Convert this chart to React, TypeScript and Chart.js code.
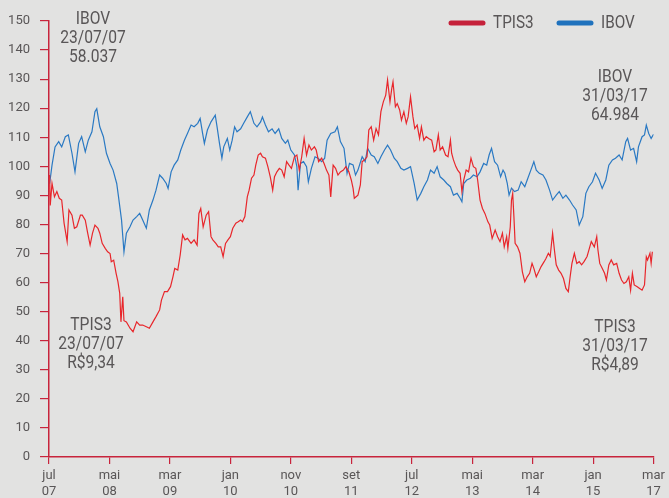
import React, { useEffect, useRef } from "react";
import { Chart, registerables } from "chart.js";

Chart.register(...registerables);

// months since jul/07
const IBOV_T = [0.1,0.5,1.0,1.6,2.1,2.7,3.2,3.8,4.3,4.9,5.4,6.0,6.5,7.1,7.6,7.9,8.4,9.0,9.5,10.1,10.6,11.2,11.5,12.0,12.4,12.8,13.4,13.9,14.5,15.0,15.5,16.1,16.6,17.2,17.7,18.3,18.8,19.4,19.7,20.2,20.7,21.3,21.8,22.4,22.9,23.5,24.0,24.6,25.0,25.4,25.7,26.2,26.8,27.5,27.8,28.2,28.6,28.9,29.5,29.9,30.3,30.7,31.1,31.7,32.2,32.8,33.3,33.9,34.4,35.0,35.3,35.8,36.3,36.9,37.4,38.0,38.5,39.1,39.5,40.0,40.6,41.0,41.2,41.6,42.1,42.6,42.9,43.4,44.0,44.5,45.1,45.6,46.0,46.6,47.3,47.7,48.2,48.8,49.3,49.7,50.3,50.7,51.1,51.8,52.3,52.7,53.3,53.8,54.4,54.9,55.5,56.0,56.5,57.1,57.6,58.2,58.7,59.3,59.8,60.4,60.9,61.5,62.0,62.6,63.1,63.7,64.2,64.7,65.3,65.8,66.4,66.9,67.5,68.0,68.3,68.6,69.1,69.7,70.2,70.8,71.3,71.9,72.4,72.8,73.2,73.7,74.2,74.7,75.1,75.4,75.8,76.1,76.5,77.0,77.6,78.1,78.7,79.1,79.7,80.2,80.6,81.1,81.7,82.2,82.8,83.3,83.9,84.4,85.0,85.5,86.1,86.6,87.2,87.7,88.3,88.8,89.3,89.9,90.4,91.0,91.5,92.1,92.6,93.2,93.7,94.3,94.8,95.4,95.7,96.2,96.7,97.2,97.5,98.1,98.5,98.8,99.2,99.6,100.0];
const IBOV_V = [94,100.4,106.7,108.5,106.7,110.2,110.8,104.5,98.1,107.9,110.2,105,109,111.9,118.8,119.8,113.6,110.2,104.5,101,98.7,94.1,89.5,81.5,70.6,77,79.2,81.5,82.7,83.8,81.5,78.7,85,88.4,91.8,97,95.9,94.1,92.4,98.1,100.4,102.2,105.6,109,111.3,114.2,113.6,114.8,116.5,111.4,107.9,112.5,115.3,117.6,113.6,107.9,102.8,106.7,109.6,105.6,109,113.6,111.9,112.9,114.8,117,118.8,114.8,113.6,115.3,117,114.2,111.9,112.9,111.3,112.9,109.6,107.9,109,105.6,103.9,99.9,91.8,101,101.6,99.9,94.7,99.3,103.3,102.8,101.6,102.8,109,111.3,111.9,113.6,108.5,106.2,97.6,101,100.5,97,98.7,103.3,101.6,106.2,103.9,103.3,101,103.3,105.6,107.3,105.6,102.8,101.6,99.3,98.7,99.3,99.9,94.1,88.4,90.7,93,95.3,98.7,97.6,99.9,96.4,95.3,94.1,93,90.1,90.7,89,87.8,94.1,95.3,95.9,97,96.4,98.1,101,100.4,103.9,106.2,101.6,100.4,96.4,98.7,97.6,94.1,90.1,92.5,91.3,91.8,94.7,93,95.3,98.7,101.6,98.7,97.6,97,95.3,91.8,88.4,90.1,91.3,89,90.1,88.4,86.7,85,79.8,82.7,90.7,93,94.7,97.6,95.3,92.4,95.3,100.4,102.2,102.8,103.9,102.2,108.5,109.6,105.6,106.2,101.6,106.7,110.2,110.8,114.2,111.3,109.6,111];

const TPIS_T = [0.1,0.2,0.5,0.9,1.3,1.7,2.1,2.5,3.0,3.3,3.8,4.2,4.6,5.2,5.5,6.0,6.4,6.8,7.2,7.6,8.1,8.4,8.8,9.3,9.7,10.1,10.3,10.7,11.1,11.4,11.7,11.9,12.2,12.4,12.8,13.4,13.9,14.5,15.0,15.5,16.1,16.6,17.2,17.7,18.3,18.6,19.1,19.6,20.1,20.5,20.8,21.3,21.7,22.1,22.5,22.9,23.5,24.0,24.5,24.8,25.1,25.5,26.0,26.4,26.8,27.1,27.6,28.0,28.4,28.8,29.2,29.6,30.0,30.4,30.9,31.3,31.7,32.0,32.4,32.8,33.1,33.5,33.9,34.2,34.6,35.0,35.3,35.8,36.2,36.6,37.0,37.3,37.7,38.1,38.5,38.9,39.3,39.7,40.1,40.6,41.0,41.4,41.8,42.2,42.6,43.0,43.4,43.9,44.2,44.6,45.1,45.5,45.9,46.3,46.6,47.0,47.4,47.8,48.2,48.7,49.1,49.6,50.0,50.3,50.5,51.1,51.5,51.8,52.2,52.6,52.9,53.3,53.7,54.1,54.5,54.9,55.3,55.7,56.0,56.4,56.7,56.9,57.3,57.6,58.0,58.3,58.7,59.1,59.4,59.8,60.2,60.5,60.9,61.3,61.6,62.0,62.4,62.8,63.3,63.7,64.0,64.4,64.7,65.1,65.6,66.0,66.4,66.6,66.9,67.3,67.6,68.0,68.3,68.6,69.0,69.4,69.8,70.2,70.6,70.9,71.3,71.7,72.1,72.6,72.9,73.3,73.8,74.2,74.6,75.0,75.3,75.7,75.9,76.3,76.5,76.7,76.9,77.1,77.5,77.9,78.3,78.7,79.1,79.5,79.9,80.2,80.6,81.0,81.4,81.9,82.2,82.6,82.9,83.3,83.6,83.9,84.3,84.7,85.1,85.5,85.9,86.2,86.5,86.9,87.3,87.7,88.1,88.5,89.0,89.3,89.7,90.2,90.6,90.8,91.1,91.5,91.9,92.2,92.6,93.0,93.4,93.9,94.3,94.7,95.1,95.5,95.9,96.2,96.5,96.8,97.3,97.7,98.1,98.5,98.8,99.0,99.4,99.6,99.8];
const TPIS_V = [97,86.5,94.1,89.5,91.3,89,88.4,80.4,74.1,85,83.2,78.7,79.2,83.2,83.2,81.5,77,72.9,77,79.8,78.7,77,73.5,71.8,70.6,70,67.2,67.7,63.2,60.3,56.3,46.5,55.1,46.9,46.5,44.3,43.1,46.5,45.4,45.4,44.8,44.3,46.5,48.3,50.6,54,56.9,56.9,58.6,62,64.9,64.3,69.5,76.4,74.7,75.2,73.5,74.7,72.9,83.8,85.5,79.2,83.2,84.4,75.8,74.7,73.5,72.3,72.3,68.9,73.5,74.7,75.8,78.7,80.4,80.9,81.5,80.9,82.7,89.5,91.8,95.9,97,100.4,103.9,104.5,103.3,102.8,99.9,96.4,91.8,96.4,98.1,99.3,98.7,96.4,101.6,100.4,99.3,103.3,103.9,98.7,103.3,109.6,103.9,107.3,105.6,106.7,105.6,101.6,102.8,101,98.7,97,89.5,100.4,99.3,97,98.1,98.7,99.9,98.1,95.3,92.4,89,90.1,93.6,101.6,102.2,103.3,112.5,113.6,109,113,110.8,118.8,122.2,124.5,129.7,122.2,126.8,129.1,120.5,121.6,119.4,115.9,118.8,114.8,117,123.9,117,113,114.2,109.6,113.6,109,110.2,109.6,109,105,105.6,110.8,105.6,106.7,103.9,103.3,109,104.5,102.2,99.9,98.7,97.6,91.3,95.3,98.7,98.1,102.8,99.9,99.3,95.3,88.4,85.5,83.8,80.9,79.8,75.2,78.1,75.8,74.1,77,72.3,75.8,71.8,79.2,88.4,90.7,82.7,73.5,72.3,70.1,63.7,60.3,62,63.2,66.6,64.9,62,63.7,65.5,67.2,68.3,70.1,69,77,71.2,66.1,64.3,63.2,61.4,58,56.9,62,66.6,70.1,66.6,67.2,66.1,67.2,69,71.2,74.1,72.3,75.8,71.2,66.6,64.9,63.2,60.9,66.1,67.8,66.1,66.6,63.2,60.9,59.7,60.3,62,57.4,63.2,59.2,58.6,58,57.4,59.2,68.9,67.8,70.1,66.6,70.6];

const X_TICKS = [0, 10, 20, 30, 40, 50, 60, 70, 80, 90, 100];
const X_LABELS = [["jul","07"],["mai","08"],["mar","09"],["jan","10"],["nov","10"],["set","11"],["jul","12"],["mai","13"],["mar","14"],["jan","15"],["mar","17"]];
const SERIES_NAMES = ["TPIS3", "IBOV"];
const NOTE_IBOV_START = ["IBOV", "23/07/07", "58.037"];
const NOTE_IBOV_END = ["IBOV", "31/03/17", "64.984"];
const NOTE_TPIS_START = ["TPIS3", "23/07/07", "R$9,34"];
const NOTE_TPIS_END = ["TPIS3", "31/03/17", "R$4,89"];

const FONT = "Roboto, sans-serif";
const AXIS_RED = "#c8243c";
const TEXT = "#595657";
const RED = "#e8262b";
const BLUE = "#2a79c3";

const notesPlugin = {
  id: "notes",
  afterDraw(chart: any) {
    const ctx = chart.ctx;
    ctx.save();
    ctx.fillStyle = TEXT;
    ctx.textAlign = "center";
    ctx.textBaseline = "middle";
    ctx.font = `19px ${FONT}`;
    const draw = (lines: string[], cx: number, top: number) => {
      lines.forEach((l, i) => {
        ctx.save();
        ctx.translate(cx, top + i * 19);
        ctx.scale(0.82, 1);
        ctx.fillText(l, 0, 0);
        ctx.restore();
      });
    };
    draw(NOTE_IBOV_START, 93, 19);
    draw(NOTE_IBOV_END, 615, 77);
    draw(NOTE_TPIS_START, 91, 325);
    draw(NOTE_TPIS_END, 615, 327);

    // legend
    const items = [
      { name: SERIES_NAMES[0], color: "#c5213a", x: 449 },
      { name: SERIES_NAMES[1], color: "#1f72bd", x: 557 },
    ];
    ctx.font = `18px ${FONT}`;
    ctx.textAlign = "left";
    items.forEach((it) => {
      ctx.strokeStyle = it.color;
      ctx.lineWidth = 5;
      ctx.lineCap = "round";
      ctx.beginPath();
      ctx.moveTo(it.x + 2, 23);
      ctx.lineTo(it.x + 34, 23);
      ctx.stroke();
      ctx.fillStyle = TEXT;
      ctx.save();
      ctx.translate(it.x + 44, 23);
      ctx.scale(0.85, 1);
      ctx.fillText(it.name, 0, 0);
      ctx.restore();
    });
    ctx.restore();
  },
};

export default function App() {
  const ref = useRef<HTMLCanvasElement>(null);
  useEffect(() => {
    document.body.style.margin = "0";
    const canvas = ref.current!;
    const chart = new Chart(canvas, {
      type: "line",
      data: {
        datasets: [
          {
            label: SERIES_NAMES[0],
            data: TPIS_T.map((t, i) => ({ x: t, y: TPIS_V[i] })),
            borderColor: RED,
            borderWidth: 1.2,
            pointRadius: 0,
            tension: 0,
          },
          {
            label: SERIES_NAMES[1],
            data: IBOV_T.map((t, i) => ({ x: t, y: IBOV_V[i] })),
            borderColor: BLUE,
            borderWidth: 1.2,
            pointRadius: 0,
            tension: 0,
          },
        ],
      },
      options: {
        animation: false,
        responsive: false,
        devicePixelRatio: 1,
        layout: { padding: { top: 21, right: 11, left: 0, bottom: 0 } },
        plugins: { legend: { display: false }, tooltip: { enabled: false } },
        scales: {
          x: {
            type: "linear",
            min: 0,
            max: 100,
            afterBuildTicks: (s: any) => {
              s.ticks = X_TICKS.map((v) => ({ value: v }));
            },
            afterFit: (s: any) => {
              s.height = 41;
            },
            grid: { drawOnChartArea: false, drawTicks: true, tickLength: 7, color: AXIS_RED, lineWidth: 1.2 },
            border: { display: true, color: AXIS_RED, width: 1.5 },
            ticks: {
              autoSkip: false,
              maxRotation: 0,
              padding: 4,
              color: TEXT,
              font: { family: FONT, size: 13, lineHeight: 1.2 },
              callback: (_v: any, i: number) => X_LABELS[i],
            },
          },
          y: {
            min: 0,
            max: 150,
            afterFit: (s: any) => {
              s.width = 49;
            },
            grid: { drawOnChartArea: false, drawTicks: true, tickLength: 9, color: AXIS_RED, lineWidth: 1.2 },
            border: { display: true, color: AXIS_RED, width: 1.5 },
            ticks: {
              stepSize: 10,
              padding: 10,
              color: TEXT,
              font: { family: FONT, size: 13 },
            },
          },
        },
      },
      plugins: [notesPlugin],
    });
    return () => chart.destroy();
  }, []);
  return (
    <div style={{ position: "fixed", left: 0, top: 0, width: 669, height: 498, background: "#e2e2e1" }}>
      <canvas ref={ref} width={669} height={498} style={{ width: 669, height: 498 }} />
    </div>
  );
}
